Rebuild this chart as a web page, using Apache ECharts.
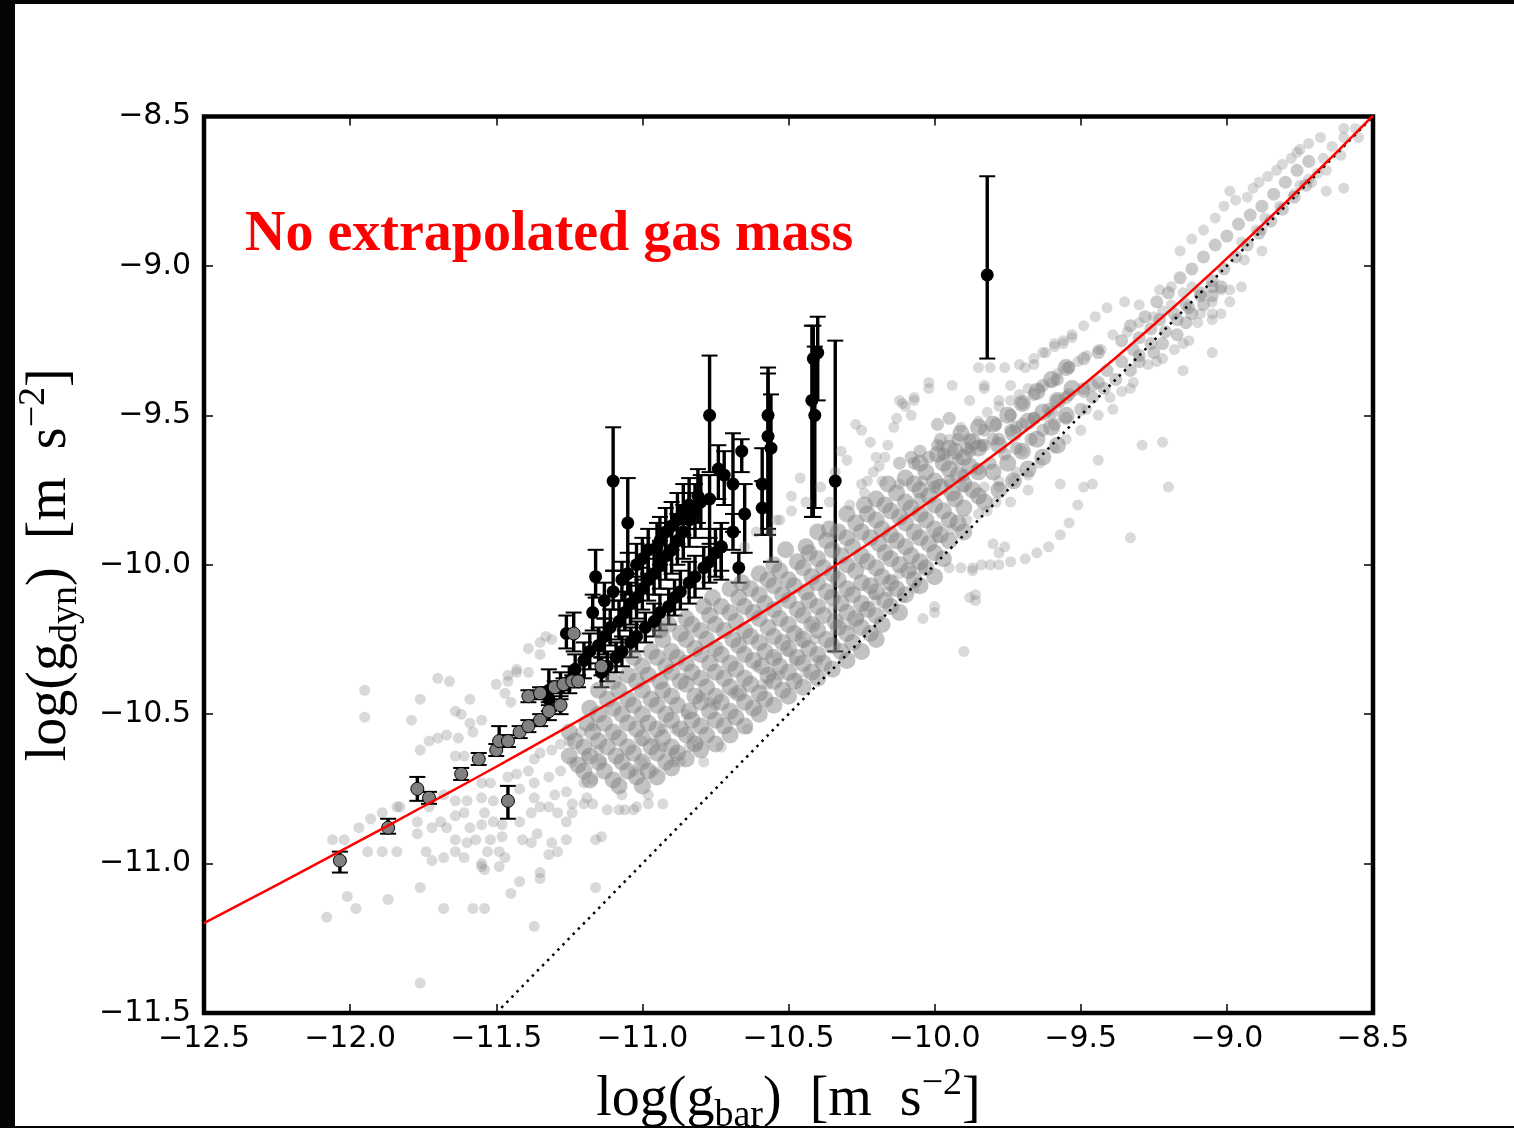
<!DOCTYPE html>
<html><head><meta charset="utf-8">
<script src="https://cdn.jsdelivr.net/npm/echarts@6/dist/echarts.min.js"></script>
<style>
html,body{margin:0;padding:0;background:#040404;width:1514px;height:1128px;overflow:hidden;}
#paper{position:absolute;left:15px;top:4px;width:1499px;height:1122px;background:#fff;}
#chart{position:absolute;left:0;top:0;width:1514px;height:1128px;}
#bottomStrip{position:absolute;left:0;top:1126px;width:1514px;height:2px;background:#040404;}
</style></head>
<body><div id="paper"></div><div id="chart"></div><div id="bottomStrip"></div>
<script>
// ---------- data (log g_bar, log g_dyn) ----------
const xTicks = [-12.5,-12.0,-11.5,-11.0,-10.5,-10.0,-9.5,-9.0,-8.5];
const yTicks = [-11.5,-11.0,-10.5,-10.0,-9.5,-9.0,-8.5];

// red fitted relation
const redCurve = [[-12.5,-11.199],[-12.25,-11.071],[-12.0,-10.941],[-11.75,-10.809],[-11.5,-10.676],[-11.25,-10.539],[-11.0,-10.399],[-10.75,-10.255],[-10.5,-10.104],[-10.25,-9.945],[-10.0,-9.777],[-9.75,-9.598],[-9.5,-9.405],[-9.25,-9.197],[-9.0,-8.975],[-8.75,-8.741],[-8.5,-8.497]];
// dotted 1:1 line
const oneToOne = [[-11.5,-11.5],[-8.5,-8.5]];

// dense central part of the grey cloud
const grayCore = [
[-10.94,-10.22],[-10.91,-10.20],[-10.85,-10.18],[-10.79,-10.14],[-10.76,-10.11],[-10.70,-10.08],[-10.66,-10.06],[-10.60,-10.03],[-10.55,-10.00],[-10.51,-9.95],[-10.44,-9.94],[-10.40,-9.89],[-10.36,-9.88],[-10.30,-9.83],[-10.24,-9.80],[-10.20,-9.78],[-10.16,-9.73],[-10.10,-9.71],[-10.05,-9.66],[-9.99,-9.63],[-9.95,-9.61],[-9.91,-9.56],[-9.85,-9.54],
[-11.03,-10.31],[-10.97,-10.29],[-10.93,-10.25],[-10.87,-10.23],[-10.83,-10.20],[-10.77,-10.17],[-10.73,-10.14],[-10.67,-10.11],[-10.63,-10.08],[-10.57,-10.05],[-10.53,-10.02],[-10.47,-9.99],[-10.43,-9.96],[-10.37,-9.92],[-10.33,-9.89],[-10.27,-9.86],[-10.23,-9.83],[-10.17,-9.80],[-10.13,-9.76],[-10.07,-9.73],[-10.03,-9.69],[-9.97,-9.66],[-9.93,-9.62],[-9.87,-9.59],
[-11.15,-10.42],[-11.10,-10.39],[-11.05,-10.37],[-11.00,-10.34],[-10.95,-10.31],[-10.90,-10.29],[-10.85,-10.25],[-10.80,-10.22],[-10.75,-10.20],[-10.70,-10.16],[-10.65,-10.14],[-10.60,-10.10],[-10.55,-10.07],[-10.50,-10.05],[-10.45,-10.01],[-10.40,-9.98],[-10.35,-9.95],[-10.30,-9.91],[-10.25,-9.89],[-10.20,-9.85],[-10.15,-9.82],[-10.10,-9.79],[-10.05,-9.75],[-10.00,-9.72],[-9.95,-9.68],[-9.90,-9.64],[-9.85,-9.61],
[-11.18,-10.48],[-11.12,-10.45],[-11.08,-10.42],[-11.02,-10.39],[-10.98,-10.37],[-10.92,-10.34],[-10.88,-10.31],[-10.82,-10.28],[-10.78,-10.25],[-10.72,-10.22],[-10.68,-10.19],[-10.62,-10.16],[-10.58,-10.13],[-10.52,-10.10],[-10.48,-10.07],[-10.42,-10.04],[-10.38,-10.01],[-10.32,-9.97],[-10.28,-9.94],[-10.22,-9.91],[-10.18,-9.88],[-10.12,-9.84],[-10.08,-9.81],[-10.02,-9.77],[-9.98,-9.74],[-9.92,-9.70],[-9.88,-9.67],
[-11.25,-10.56],[-11.19,-10.53],[-11.15,-10.50],[-11.10,-10.48],[-11.05,-10.45],[-11.00,-10.42],[-10.94,-10.39],[-10.90,-10.36],[-10.85,-10.33],[-10.80,-10.30],[-10.75,-10.28],[-10.69,-10.25],[-10.65,-10.22],[-10.60,-10.18],[-10.55,-10.15],[-10.50,-10.12],[-10.44,-10.09],[-10.40,-10.06],[-10.35,-10.03],[-10.30,-10.00],[-10.25,-9.97],[-10.19,-9.93],[-10.15,-9.90],[-10.10,-9.86],[-10.05,-9.83],[-10.00,-9.80],[-9.94,-9.76],[-9.90,-9.73],[-9.85,-9.69],
[-11.23,-10.59],[-11.17,-10.56],[-11.13,-10.53],[-11.07,-10.50],[-11.03,-10.47],[-10.97,-10.45],[-10.93,-10.42],[-10.87,-10.39],[-10.83,-10.36],[-10.77,-10.33],[-10.73,-10.30],[-10.67,-10.27],[-10.63,-10.24],[-10.57,-10.21],[-10.53,-10.18],[-10.47,-10.15],[-10.43,-10.12],[-10.37,-10.09],[-10.33,-10.05],[-10.27,-10.02],[-10.23,-9.99],[-10.17,-9.96],[-10.13,-9.92],[-10.07,-9.89],[-10.03,-9.85],[-9.97,-9.82],[-9.93,-9.78],[-9.87,-9.75],
[-11.25,-10.64],[-11.20,-10.61],[-11.15,-10.59],[-11.10,-10.56],[-11.05,-10.53],[-11.00,-10.50],[-10.95,-10.47],[-10.90,-10.44],[-10.85,-10.40],[-10.80,-10.38],[-10.75,-10.36],[-10.70,-10.33],[-10.65,-10.30],[-10.60,-10.26],[-10.55,-10.24],[-10.50,-10.20],[-10.45,-10.17],[-10.40,-10.14],[-10.35,-10.11],[-10.30,-10.08],[-10.25,-10.06],[-10.20,-10.01],[-10.15,-9.98],[-10.10,-9.94],[-10.05,-9.91],[-10.00,-9.88],[-9.95,-9.85],[-9.90,-9.81],[-9.85,-9.77],
[-11.22,-10.67],[-11.18,-10.64],[-11.12,-10.61],[-11.08,-10.58],[-11.02,-10.55],[-10.98,-10.53],[-10.92,-10.50],[-10.88,-10.47],[-10.82,-10.44],[-10.78,-10.41],[-10.72,-10.38],[-10.68,-10.35],[-10.62,-10.32],[-10.58,-10.29],[-10.52,-10.26],[-10.48,-10.23],[-10.42,-10.20],[-10.38,-10.17],[-10.32,-10.13],[-10.28,-10.10],[-10.22,-10.07],[-10.18,-10.04],[-10.12,-10.00],[-10.08,-9.97],[-10.02,-9.93],[-9.98,-9.90],[-9.92,-9.86],
[-11.20,-10.69],[-11.15,-10.66],[-11.09,-10.64],[-11.05,-10.61],[-11.00,-10.58],[-10.95,-10.55],[-10.90,-10.52],[-10.84,-10.49],[-10.80,-10.46],[-10.75,-10.44],[-10.70,-10.41],[-10.65,-10.38],[-10.59,-10.34],[-10.55,-10.31],[-10.50,-10.28],[-10.45,-10.25],[-10.40,-10.22],[-10.34,-10.19],[-10.30,-10.16],[-10.25,-10.13],[-10.20,-10.09],[-10.15,-10.06],[-10.09,-10.02],[-10.05,-9.99],[-10.00,-9.96],[-9.95,-9.92],[-9.90,-9.89],
[-11.18,-10.72],[-11.13,-10.69],[-11.07,-10.66],[-11.03,-10.63],[-10.97,-10.61],[-10.93,-10.58],[-10.87,-10.55],[-10.83,-10.52],[-10.77,-10.49],[-10.73,-10.46],[-10.67,-10.43],[-10.63,-10.40],[-10.57,-10.37],[-10.53,-10.34],[-10.47,-10.31],[-10.43,-10.28],[-10.37,-10.25],[-10.33,-10.21],[-10.27,-10.18],[-10.23,-10.15],[-10.17,-10.12],[-10.13,-10.08],[-10.07,-10.05],[-10.03,-10.01],[-9.97,-9.98],
[-11.10,-10.72],[-11.05,-10.69],[-11.00,-10.66],[-10.95,-10.63],[-10.90,-10.61],[-10.85,-10.57],[-10.80,-10.54],[-10.75,-10.52],[-10.70,-10.49],[-10.65,-10.46],[-10.60,-10.43],[-10.55,-10.39],[-10.50,-10.36],[-10.45,-10.33],[-10.40,-10.30],[-10.35,-10.27],[-10.30,-10.23],[-10.25,-10.21],[-10.20,-10.17],[-10.15,-10.14],[-10.10,-10.10],[-10.05,-10.07],[-10.00,-10.04],
[-11.08,-10.74],[-11.02,-10.71],[-10.98,-10.69],[-10.92,-10.66],[-10.88,-10.63],[-10.82,-10.60],[-10.78,-10.57],[-10.72,-10.54],[-10.68,-10.51],[-10.62,-10.48],[-10.58,-10.45],[-10.52,-10.42],[-10.48,-10.39],[-10.42,-10.36],[-10.38,-10.33],[-10.32,-10.29],[-10.28,-10.26],[-10.22,-10.23],[-10.18,-10.20],[-10.12,-10.16],
[-11.00,-10.74],[-10.95,-10.71],[-10.90,-10.68],[-10.85,-10.65],[-10.80,-10.62],[-10.75,-10.60],[-10.70,-10.57],[-10.65,-10.54],[-10.60,-10.50],[-10.55,-10.47],[-10.50,-10.44],[-10.45,-10.41],[-10.40,-10.38],[-10.35,-10.35],[-10.30,-10.32],[-10.25,-10.29],[-10.20,-10.25],
[-9.80,-9.53],[-9.75,-9.50],[-9.70,-9.46],[-9.65,-9.42],[-9.60,-9.38],[-9.55,-9.34],
[-9.78,-9.60],[-9.73,-9.56],[-9.68,-9.52],[-9.63,-9.49],[-9.58,-9.45],[-9.53,-9.41],
[-9.80,-9.69],[-9.75,-9.66],[-9.70,-9.62],[-9.65,-9.58],[-9.60,-9.54],[-9.55,-9.50],
[-9.83,-9.79],[-9.78,-9.75],[-9.73,-9.72],[-9.68,-9.68],[-9.63,-9.64],[-9.58,-9.60]
];

// streaky right-hand band (medium density)
const grayBand = [
[-10.07,-9.66],[-10.02,-9.64],[-9.97,-9.63],[-9.89,-9.61],[-9.84,-9.60],[-9.80,-9.58],[-9.74,-9.55],[-9.70,-9.53],[-9.66,-9.51],[-9.61,-9.48],[-9.58,-9.45],[-9.54,-9.43],[-9.49,-9.41],[-9.44,-9.39],[-9.41,-9.35],[-9.36,-9.32],[-9.32,-9.28],[-9.30,-9.24],[-9.26,-9.21],[-9.23,-9.18],[-9.18,-9.16],[-9.14,-9.13],[-9.09,-9.09],[-9.05,-9.07],
[-10.05,-9.78],[-10.00,-9.74],[-9.95,-9.72],[-9.90,-9.70],[-9.85,-9.68],[-9.81,-9.66],[-9.76,-9.63],[-9.72,-9.61],[-9.67,-9.58],[-9.63,-9.55],[-9.59,-9.53],[-9.55,-9.51],[-9.50,-9.48],[-9.46,-9.44],[-9.42,-9.41],[-9.38,-9.38],[-9.33,-9.35],[-9.30,-9.32],[-9.25,-9.29],[-9.22,-9.26],[-9.17,-9.23],[-9.14,-9.19],[-9.12,-9.16],[-9.08,-9.13],[-9.05,-9.10],[-9.02,-9.07],
[-9.99,-9.53],[-9.95,-9.51],[-9.98,-9.58],[-9.92,-9.58],[-9.88,-9.58],[-9.83,-9.55],[-9.79,-9.53],[-9.74,-9.50],[-9.70,-9.46],[-9.66,-9.43],[-9.63,-9.40],[-9.58,-9.38],[-9.54,-9.34],[-9.49,-9.31],[-9.44,-9.29],
[-10.12,-9.66],[-10.08,-9.64],[-10.05,-9.62],[-9.99,-9.60],[-9.92,-9.65],[-9.88,-9.62],[-9.83,-9.60],[-9.78,-9.58],[-9.72,-9.54],[-9.66,-9.51],[-9.60,-9.49],[-9.55,-9.44],[-9.49,-9.42],[-9.46,-9.40],
[-9.36,-9.25],[-9.33,-9.20],[-9.28,-9.17],[-9.24,-9.12],[-9.20,-9.09],[-9.16,-9.04],[-9.12,-9.01],[-9.08,-8.97],[-9.04,-8.93],[-9.00,-8.90],[-8.96,-8.86],[-8.92,-8.83],[-8.88,-8.80],[-8.84,-8.76],[-8.80,-8.72],[-8.76,-8.68],[-8.72,-8.65],
[-9.30,-9.30],[-9.26,-9.26],[-9.21,-9.22],[-9.17,-9.18],[-9.13,-9.14],[-9.09,-9.10],[-9.05,-9.05],[-9.01,-9.01],[-8.97,-8.97],[-8.93,-8.93],[-8.89,-8.89],[-8.85,-8.85],[-8.81,-8.81],[-8.77,-8.77],[-8.73,-8.73]
];

// outer / sparse grey points
const grayCloud = [
[-11.95,-10.42],[-11.95,-10.51],[-11.76,-10.45],[-11.79,-10.52],[-11.70,-10.38],[-11.66,-10.39],[-11.59,-10.45],
[-12.06,-10.92],[-12.02,-10.92],[-11.97,-10.88],[-11.93,-10.85],[-11.89,-10.83],[-11.84,-10.81],[-11.83,-10.81],
[-11.94,-10.96],[-11.89,-10.96],[-11.84,-10.96],[-12.01,-11.11],[-11.98,-11.15],[-12.08,-11.18],[-11.87,-11.12],
[-11.76,-11.08],[-11.68,-11.15],[-11.58,-11.15],[-11.54,-11.15],[-11.76,-11.40],[-11.37,-11.21],[-11.45,-11.10],
[-11.42,-11.06],[-11.35,-11.05],[-11.35,-11.03],[-11.74,-10.96],[-11.72,-10.99],[-11.68,-10.98],[-11.64,-10.96],
[-11.61,-10.98],[-11.55,-11.01],[-11.77,-10.90],[-11.77,-10.86],[-11.73,-10.81],[-11.72,-10.88],[-11.69,-10.86],
[-11.67,-10.88],[-11.64,-10.92],[-11.60,-10.93],[-11.57,-10.92],[-11.64,-10.84],[-11.61,-10.83],[-11.59,-10.88],
[-11.55,-10.87],[-11.51,-10.86],[-11.48,-10.87],[-11.54,-10.83],[-11.51,-10.79],[-11.60,-10.79],[-11.64,-10.79],
[-11.68,-10.77],[-11.53,-10.96],[-11.49,-10.96],[-11.52,-10.92],[-11.48,-10.91],[-11.55,-11.00],[-11.49,-11.01],
[-11.47,-10.98],[-11.54,-11.02],[-11.41,-10.92],[-11.38,-10.93],[-11.36,-10.90],[-11.31,-10.93],[-11.32,-10.97],
[-11.29,-10.96],[-11.26,-10.92],[-11.26,-10.86],[-11.24,-10.80],[-11.20,-10.80],[-11.17,-10.80],[-11.16,-10.92],
[-11.16,-11.08],[-11.42,-10.86],[-11.38,-10.83],[-11.35,-10.81],[-11.32,-10.81],[-11.29,-10.83],
[-11.73,-10.59],[-11.70,-10.58],[-11.67,-10.57],[-11.63,-10.58],[-11.76,-10.62],[-11.64,-10.64],[-11.61,-10.64],
[-11.64,-10.49],[-11.62,-10.50],[-11.59,-10.53],[-11.55,-10.52],[-11.58,-10.56],[-11.50,-10.40],[-11.46,-10.39],
[-11.43,-10.36],[-11.39,-10.36],[-11.47,-10.43],[-11.45,-10.46],[-11.55,-10.73],[-11.52,-10.73],[-11.55,-10.78],
[-11.46,-10.71],[-11.43,-10.70],[-11.39,-10.69],[-11.37,-10.65],[-11.35,-10.63],[-11.31,-10.62],[-11.28,-10.60],
[-11.25,-10.59],[-11.21,-10.56],[-11.17,-10.54],[-11.42,-10.75],[-11.37,-10.73],[-11.32,-10.71],[-11.28,-10.69],
[-11.24,-10.66],[-11.19,-10.64],[-11.15,-10.62],[-11.37,-10.78],[-11.30,-10.77],[-11.26,-10.76],[-11.20,-10.73],
[-11.17,-10.72],[-11.19,-10.78],[-11.24,-10.83],
[-11.39,-10.28],[-11.35,-10.26],[-11.31,-10.25],[-11.35,-10.30],[-11.43,-10.35],[-11.46,-10.37],[-11.33,-10.24],
[-11.14,-10.66],[-11.07,-10.77],[-11.03,-10.82],[-11.12,-10.82],[-11.08,-10.82],[-10.98,-10.77],[-10.98,-10.80],[-10.93,-10.80],[-11.00,-10.66],[-10.96,-10.69],[-11.03,-10.69],[-10.89,-10.63],[-10.87,-10.66],[-10.89,-10.66],[-10.79,-10.66],[-10.93,-10.61],[-11.00,-10.59],[-10.96,-10.59],[-10.83,-10.58],[-10.81,-10.60],[-10.73,-10.61],[-10.84,-10.61],[-10.64,-10.55],[-10.89,-10.55],[-10.93,-10.55],[-10.85,-10.50],[-10.77,-10.46],[-10.75,-10.47],[-10.80,-10.44],[-10.69,-10.43],[-10.67,-10.43],[-10.59,-10.40],[-10.57,-10.40],[-10.56,-10.37],[-10.53,-10.37],[-10.47,-10.38],[-10.44,-10.36],[-10.40,-10.32],[-10.48,-10.32],[-10.61,-10.34],[-10.54,-10.31],[-10.50,-10.29],[-10.45,-10.26],[-10.41,-10.25],[-10.46,-10.23],[-10.42,-10.20],[-10.35,-10.15],[-10.29,-10.20],[-10.26,-10.18],[-10.23,-10.14],[-10.21,-10.10],[-10.16,-10.09],[-10.15,-10.05],[-10.11,-10.11],[-10.07,-10.08],[-10.04,-10.18],[-10.00,-10.16],[-9.95,-10.01],[-9.91,-10.01],[-9.87,-10.01],[-9.81,-10.00],[-9.88,-10.11],[-9.86,-10.10],[-9.90,-10.29],[-10.08,-10.02],[-10.12,-10.03],[-10.20,-10.12],[-11.14,-10.91],[-11.02,-10.81],[-11.06,-10.82],
[-10.39,-9.74],[-10.36,-9.79],[-10.44,-9.79],[-10.49,-9.82],[-10.53,-9.85],[-10.56,-9.89],[-10.34,-9.69],[-10.32,-9.62],[-10.22,-9.59],[-10.20,-9.64],[-10.25,-9.55],[-10.12,-9.45],[-10.08,-9.50],
[-10.54,-9.85],[-10.61,-9.89],[-10.65,-9.94],[-10.49,-9.77],[-10.46,-9.71],
[-10.07,-9.44],[-10.11,-9.46],[-10.02,-9.41],[-9.94,-9.40],[-9.88,-9.45],[-9.83,-9.41],[-9.85,-9.34],[-9.78,-9.45],[-9.74,-9.40],[-9.69,-9.34],[-9.66,-9.33],[-9.62,-9.29],[-9.59,-9.26],[-9.56,-9.25],[-9.53,-9.23],[-9.49,-9.20],[-9.45,-9.17],[-9.41,-9.14],[-9.35,-9.12],[-9.30,-9.13],[-9.23,-9.08],[-9.19,-9.07],
[-9.98,-9.60],[-9.95,-9.58],[-9.91,-9.54],[-9.85,-9.52],[-9.82,-9.49],[-9.78,-9.47],[-9.74,-9.45],[-9.71,-9.43],[-9.68,-9.41],[-9.64,-9.41],[-9.60,-9.39],[-9.58,-9.36],[-9.55,-9.34],[-9.51,-9.32],[-9.48,-9.30],[-9.44,-9.28],[-9.43,-9.28],[-9.39,-9.23],[-9.34,-9.22],[-9.30,-9.19],[-9.25,-9.17],[-9.22,-9.15],[-9.19,-9.13],[-9.15,-9.09],[-9.12,-9.07],
[-9.99,-9.91],[-9.94,-9.88],[-9.89,-9.85],[-9.85,-9.83],[-9.82,-9.82],[-9.79,-9.79],[-9.78,-9.74],[-9.74,-9.79],[-9.73,-9.72],[-9.68,-9.70],[-9.64,-9.66],[-9.59,-9.61],[-9.55,-9.58],[-9.50,-9.55],[-9.48,-9.48],[-9.44,-9.50],[-9.40,-9.44],[-9.39,-9.48],[-9.36,-9.42],[-9.33,-9.41],[-9.32,-9.39],[-9.27,-9.33],[-9.24,-9.32],[-9.22,-9.31],[-9.18,-9.28],[-9.15,-9.26],[-9.13,-9.25],[-9.10,-9.19],[-9.09,-9.16],[-9.05,-9.16],[-9.05,-9.12],[-9.02,-9.08],[-8.99,-9.08],[-8.99,-9.12],[-9.02,-9.16],[-9.05,-9.18],[-9.05,-9.29],[-9.15,-9.35],
[-9.29,-9.60],[-9.22,-9.59],[-9.44,-9.65],[-9.57,-9.73],[-9.49,-9.74],[-9.46,-9.73],[-9.20,-9.74],[-9.68,-9.75],[-9.51,-9.80],[-9.54,-9.86],[-9.57,-9.90],[-9.61,-9.94],[-9.65,-9.96],[-9.69,-9.98],[-9.74,-9.99],[-9.78,-10.00],[-9.84,-10.00],[-9.87,-10.02],[-10.04,-10.01],[-9.33,-9.91],[-9.80,-9.93],[-9.76,-9.94],[-9.78,-9.96],[-9.86,-10.12],[-10.00,-10.14],
[-9.53,-9.24],[-9.56,-9.26],[-9.59,-9.27],[-9.63,-9.29],[-9.66,-9.31],[-9.71,-9.33],[-9.76,-9.34],[-9.81,-9.34],[-9.83,-9.40],[-10.02,-9.39],[-10.07,-9.45],[-10.10,-9.47],[-10.13,-9.51],[-10.14,-9.54],[-10.16,-9.60],[-10.17,-9.64],[-10.19,-9.67],[-10.21,-9.69],[-10.23,-9.72],[-10.24,-9.76],[-10.27,-9.53],[-10.30,-9.65],[-10.29,-9.80],
[-10.25,-9.73],[-10.18,-9.72],[-10.12,-9.73],[-10.04,-9.72],[-9.95,-9.73],[-9.90,-9.74],[-9.83,-9.74],[-9.78,-9.72],[-9.72,-9.69],[-9.70,-9.62],
[-8.99,-8.75],[-8.93,-8.77],[-8.91,-8.74],[-8.89,-8.72],[-8.86,-8.70],[-8.83,-8.68],[-8.81,-8.66],[-8.78,-8.64],[-8.76,-8.62],[-8.75,-8.61],[-8.72,-8.59],[-8.68,-8.57],[-8.60,-8.54],[-8.56,-8.54],[-8.60,-8.57],[-8.55,-8.57],[-8.64,-8.60],[-8.67,-8.64],[-8.61,-8.63],[-8.66,-8.68],[-8.69,-8.69],[-8.72,-8.71],[-8.75,-8.73],[-8.66,-8.75],[-8.60,-8.74],[-8.71,-8.72],
[-8.95,-8.92],[-8.90,-8.88],[-8.87,-8.84],[-8.82,-8.80],[-8.77,-8.76],[-8.94,-8.98],[-8.88,-8.95],[-8.88,-8.88],[-8.95,-9.07],
[-9.16,-8.95],[-9.12,-8.91],[-9.08,-8.88],[-9.04,-8.84],[-9.01,-8.80],[-8.97,-8.78]
];

// black points with error bars: [x, y, yLow, yHigh]
const blackPts = [
[-9.82,-9.03,-9.31,-8.70],[-11.10,-9.72,-10.02,-9.54],[-11.05,-9.86,-10.03,-9.71],[-11.16,-10.04,-10.11,-9.95],[-11.17,-10.16,-10.22,-10.10],
[-10.77,-9.50,-9.69,-9.30],[-10.77,-9.78,-9.93,-9.70],[-10.74,-9.68,-9.78,-9.60],[-10.72,-9.70,-9.80,-9.62],[-10.69,-9.73,-9.89,-9.56],
[-10.69,-9.89,-9.95,-9.83],[-10.66,-9.62,-9.69,-9.58],[-10.65,-9.83,-9.96,-9.73],[-10.73,-9.94,-10.05,-9.88],[-10.67,-10.01,-10.06,-9.96],
[-10.59,-9.73,-9.90,-9.61],[-10.59,-9.81,-9.90,-9.72],[-10.57,-9.50,-9.88,-9.34],[-10.57,-9.57,-9.90,-9.36],[-10.56,-9.61,-9.99,-9.43],
[-10.42,-9.45,-9.84,-9.20],[-10.41,-9.50,-9.81,-9.27],[-10.40,-9.29,-9.45,-9.17],[-10.415,-9.31,-9.84,-9.20],[-10.34,-9.72,-10.29,-9.25],
[-11.23,-10.35,-10.40,-10.30],[-11.20,-10.32,-10.38,-10.26],[-11.18,-10.29,-10.35,-10.23],[-11.15,-10.27,-10.33,-10.21],[-11.13,-10.24,-10.30,-10.18],
[-11.11,-10.21,-10.27,-10.15],[-11.08,-10.19,-10.25,-10.12],[-11.06,-10.16,-10.22,-10.09],[-11.04,-10.13,-10.20,-10.06],[-11.02,-10.11,-10.18,-10.04],
[-11.00,-10.08,-10.15,-10.01],[-10.98,-10.05,-10.12,-9.98],[-10.96,-10.03,-10.10,-9.95],[-10.94,-10.00,-10.08,-9.92],[-10.92,-9.97,-10.05,-9.89],
[-10.90,-9.95,-10.03,-9.86],[-10.88,-9.92,-10.00,-9.83],[-10.86,-9.89,-9.98,-9.80],[-10.84,-9.85,-9.94,-9.76],[-10.82,-9.82,-9.91,-9.73],[-10.80,-9.79,-9.88,-9.70],
[-11.13,-10.12,-10.18,-10.06],[-11.10,-10.09,-10.15,-10.02],[-11.07,-10.05,-10.12,-9.99],[-11.05,-10.03,-10.10,-9.96],[-11.02,-10.00,-10.07,-9.93],
[-11.00,-9.98,-10.05,-9.91],[-10.98,-9.95,-10.03,-9.88],[-10.95,-9.94,-10.02,-9.86],[-10.94,-9.92,-10.00,-9.84],[-10.92,-9.89,-9.97,-9.81],
[-10.90,-9.87,-9.95,-9.79],[-10.88,-9.85,-9.93,-9.76],[-10.86,-9.82,-9.90,-9.73],[-10.84,-9.80,-9.88,-9.71],[-10.81,-9.77,-9.86,-9.68],
[-11.14,-10.36,-10.41,-10.31],[-11.12,-10.34,-10.39,-10.29],[-11.09,-10.31,-10.36,-10.26],[-11.07,-10.29,-10.34,-10.24],[-11.04,-10.26,-10.31,-10.21],
[-11.02,-10.24,-10.29,-10.19],[-10.99,-10.21,-10.26,-10.16],[-10.96,-10.19,-10.24,-10.13],[-10.94,-10.16,-10.22,-10.10],[-10.91,-10.14,-10.20,-10.08],
[-10.89,-10.11,-10.17,-10.05],[-10.87,-10.09,-10.15,-10.02],[-10.84,-10.06,-10.13,-9.99],[-10.82,-10.04,-10.11,-9.97],[-10.79,-10.01,-10.08,-9.94],
[-10.77,-9.99,-10.06,-9.91],[-10.75,-9.96,-10.04,-9.88],[-10.73,-9.94,-10.02,-9.86],
[-11.32,-10.42,-10.47,-10.35],[-11.32,-10.45,-10.49,-10.41],[-11.28,-10.41,-10.45,-10.36],[-11.25,-10.39,-10.43,-10.34],[-11.26,-10.23,-10.28,-10.17]
];

// grey points with error bars: [x, y, yLow, yHigh]
const grayErrPts = [
[-12.035,-10.99,-11.03,-10.96],[-11.87,-10.88,-10.90,-10.85],[-11.77,-10.75,-10.79,-10.71],[-11.73,-10.78,-10.80,-10.76],
[-11.62,-10.70,-10.72,-10.68],[-11.56,-10.65,-10.67,-10.63],[-11.50,-10.62,-10.64,-10.60],[-11.49,-10.59,-10.61,-10.54],
[-11.46,-10.59,-10.61,-10.57],[-11.42,-10.56,-10.58,-10.54],[-11.39,-10.54,-10.56,-10.52],[-11.35,-10.52,-10.54,-10.50],
[-11.32,-10.49,-10.52,-10.46],[-11.28,-10.47,-10.50,-10.44],[-11.46,-10.79,-10.85,-10.74],[-11.39,-10.44,-10.46,-10.42],
[-11.35,-10.43,-10.45,-10.41],[-11.30,-10.41,-10.43,-10.39],[-11.27,-10.40,-10.42,-10.38],[-11.24,-10.39,-10.41,-10.37],
[-11.22,-10.39,-10.41,-10.37],[-11.235,-10.23,-10.29,-10.16],[-11.14,-10.34,-10.37,-10.31]
];

const titleText = 'No extrapolated gas mass';

// ---------- chart ----------
const fmt = v => (v < 0 ? '\u2212' : '') + Math.abs(v).toFixed(1);
const nameRich = {
  n: {fontFamily: 'Liberation Serif', fontSize: 56, lineHeight: 70, color: '#000', verticalAlign: 'middle'},
  s: {fontFamily: 'Liberation Serif', fontSize: 38, lineHeight: 38, color: '#000', verticalAlign: 'bottom'},
  p: {fontFamily: 'Liberation Serif', fontSize: 38, lineHeight: 38, color: '#000', verticalAlign: 'top'}
};
const tickStyle = {inside: true, length: 9, lineStyle: {color: '#000', width: 1.5}};
const labelStyle = {fontFamily: 'DejaVu Sans', fontSize: 30, color: '#000', formatter: fmt, showMinLabel: true, showMaxLabel: true};

function errRender(capW) {
  return function (params, api) {
    const x = api.value(0), lo = api.value(2), hi = api.value(3);
    const t = api.coord([x, hi]), b = api.coord([x, lo]);
    const st = {stroke: '#000', lineWidth: 3.4};
    const cs = {stroke: '#000', lineWidth: 2};
    return {type: 'group', children: [
      {type: 'line', shape: {x1: t[0], y1: t[1], x2: b[0], y2: b[1]}, style: st},
      {type: 'line', shape: {x1: t[0] - capW, y1: t[1], x2: t[0] + capW, y2: t[1]}, style: cs},
      {type: 'line', shape: {x1: b[0] - capW, y1: b[1], x2: b[0] + capW, y2: b[1]}, style: cs}
    ]};
  };
}

const chart = echarts.init(document.getElementById('chart'), null, {renderer: 'canvas', width: 1514, height: 1128});
chart.setOption({
  animation: false,
  backgroundColor: 'transparent',
  grid: {left: 204, top: 116.5, width: 1169, height: 896.5, show: true, borderColor: '#000', borderWidth: 4.5,
         backgroundColor: 'transparent', containLabel: false, outerBoundsMode: 'none'},
  xAxis: [
    {type: 'value', min: xTicks[0], max: xTicks[xTicks.length - 1], interval: 0.5, position: 'bottom',
     axisLine: {show: false}, splitLine: {show: false}, axisTick: tickStyle,
     axisLabel: Object.assign({margin: 11}, labelStyle),
     name: '{n|log(g}{s|bar}{n|)  [m  s}{p|\u22122}{n|]}', nameLocation: 'middle', nameGap: 52,
     nameTextStyle: {rich: nameRich, fontFamily: 'Liberation Serif', fontSize: 56, color: '#000'}},
    {type: 'value', min: xTicks[0], max: xTicks[xTicks.length - 1], interval: 0.5, position: 'top',
     axisLine: {show: false}, splitLine: {show: false}, axisTick: tickStyle, axisLabel: {show: false}}
  ],
  yAxis: [
    {type: 'value', min: yTicks[0], max: yTicks[yTicks.length - 1], interval: 0.5, position: 'left',
     axisLine: {show: false}, splitLine: {show: false}, axisTick: tickStyle,
     axisLabel: Object.assign({margin: 13}, labelStyle),
     name: '{n|log(g}{s|dyn}{n|)  [m  s}{p|\u22122}{n|]}', nameLocation: 'middle', nameRotate: 90, nameGap: 119,
     nameTextStyle: {rich: nameRich, fontFamily: 'Liberation Serif', fontSize: 56, color: '#000'}},
    {type: 'value', min: yTicks[0], max: yTicks[yTicks.length - 1], interval: 0.5, position: 'right',
     axisLine: {show: false}, splitLine: {show: false}, axisTick: tickStyle, axisLabel: {show: false}}
  ],
  graphic: [
    {type: 'text', x: 245, y: 236, z: 100,
     style: {text: titleText, fill: '#ff0000', font: 'bold 56px "Liberation Serif"', textAlign: 'left', textVerticalAlign: 'middle'}}
  ],
  series: [
    {type: 'scatter', name: 'core', data: grayCore, symbolSize: 17, silent: true,
     itemStyle: {color: '#808080', opacity: 0.48}},
    {type: 'scatter', name: 'band', data: grayBand, symbolSize: 13, silent: true,
     itemStyle: {color: '#808080', opacity: 0.42}},
    {type: 'scatter', name: 'cloud', data: grayCloud, symbolSize: 11, silent: true,
     itemStyle: {color: '#808080', opacity: 0.3}},
    {type: 'line', name: 'one', data: oneToOne, showSymbol: false, silent: true,
     lineStyle: {color: '#000', width: 2.5, type: [2.5, 4.8]}},
    {type: 'custom', name: 'blackErr', data: blackPts, renderItem: errRender(8), encode: {x: 0, y: 1}, silent: true},
    {type: 'scatter', name: 'black', data: blackPts.map(d => [d[0], d[1]]), symbolSize: 13, silent: true,
     itemStyle: {color: '#000', opacity: 1}},
    {type: 'custom', name: 'grayErr', data: grayErrPts, renderItem: errRender(8), encode: {x: 0, y: 1}, silent: true},
    {type: 'scatter', name: 'grayE', data: grayErrPts.map(d => [d[0], d[1]]), symbolSize: 13, silent: true,
     itemStyle: {color: '#808080', borderColor: '#000', borderWidth: 1, opacity: 1}},
    {type: 'line', name: 'fit', data: redCurve, smooth: true, showSymbol: false, silent: true,
     lineStyle: {color: '#ff0000', width: 2.5}}
  ]
});
</script>
</body></html>
